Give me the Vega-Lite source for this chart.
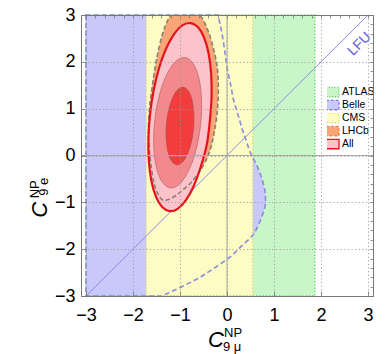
{
  "$schema": "https://vega.github.io/schema/vega-lite/v6.json",
  "width": 292,
  "height": 281,
  "autosize": "none",
  "padding": {"left": 81, "top": 15, "right": 12, "bottom": 58},
  "background": "white",
  "config": {"view": {"stroke": null}, "font": "Liberation Sans"},
  "datasets": {
    "atlas": [{"name": "ATLAS", "x0": -3, "x1": 1.87, "y0": -3, "y1": 3}],
    "cms": [{"name": "CMS", "x0": -1.72, "x1": 0.55, "y0": -3, "y1": 3}],
    "belle": [
      {"name": "Belle", "y": -3.0, "xl": -3, "xr": -1.39},
      {"name": "Belle", "y": -2.82, "xl": -3, "xr": -1.0},
      {"name": "Belle", "y": -2.66, "xl": -3, "xr": -0.68},
      {"name": "Belle", "y": -2.51, "xl": -3, "xr": -0.43},
      {"name": "Belle", "y": -2.35, "xl": -3, "xr": -0.19},
      {"name": "Belle", "y": -2.17, "xl": -3, "xr": 0.06},
      {"name": "Belle", "y": -1.94, "xl": -3, "xr": 0.30},
      {"name": "Belle", "y": -1.7, "xl": -3, "xr": 0.55},
      {"name": "Belle", "y": -1.5, "xl": -3, "xr": 0.66},
      {"name": "Belle", "y": -1.31, "xl": -3, "xr": 0.74},
      {"name": "Belle", "y": -1.13, "xl": -3, "xr": 0.80},
      {"name": "Belle", "y": -0.95, "xl": -3, "xr": 0.82},
      {"name": "Belle", "y": -0.78, "xl": -3, "xr": 0.81},
      {"name": "Belle", "y": -0.59, "xl": -3, "xr": 0.77},
      {"name": "Belle", "y": -0.4, "xl": -3, "xr": 0.71},
      {"name": "Belle", "y": -0.2, "xl": -3, "xr": 0.63},
      {"name": "Belle", "y": 0.08, "xl": -3, "xr": 0.49},
      {"name": "Belle", "y": 0.25, "xl": -3, "xr": 0.43},
      {"name": "Belle", "y": 0.48, "xl": -3, "xr": 0.35},
      {"name": "Belle", "y": 0.85, "xl": -3, "xr": 0.24},
      {"name": "Belle", "y": 1.19, "xl": -3, "xr": 0.14},
      {"name": "Belle", "y": 1.55, "xl": -3, "xr": 0.07},
      {"name": "Belle", "y": 1.89, "xl": -3, "xr": 0.0},
      {"name": "Belle", "y": 2.25, "xl": -3, "xr": -0.05},
      {"name": "Belle", "y": 2.62, "xl": -3, "xr": -0.11},
      {"name": "Belle", "y": 3.0, "xl": -3, "xr": -0.19}
    ],
    "lhcb": [
      {"i": 0, "x": -0.90, "y": 3.20}, {"i": 1, "x": -0.66, "y": 3.10}, {"i": 2, "x": -0.50, "y": 2.88},
      {"i": 3, "x": -0.38, "y": 2.60}, {"i": 4, "x": -0.28, "y": 2.25}, {"i": 5, "x": -0.21, "y": 1.90},
      {"i": 6, "x": -0.185, "y": 1.55}, {"i": 7, "x": -0.19, "y": 1.18}, {"i": 8, "x": -0.22, "y": 0.82},
      {"i": 9, "x": -0.27, "y": 0.50}, {"i": 10, "x": -0.33, "y": 0.22}, {"i": 11, "x": -0.41, "y": -0.02},
      {"i": 12, "x": -0.58, "y": -0.34}, {"i": 13, "x": -0.76, "y": -0.57}, {"i": 14, "x": -0.92, "y": -0.72},
      {"i": 15, "x": -1.08, "y": -0.85}, {"i": 16, "x": -1.24, "y": -0.94}, {"i": 17, "x": -1.37, "y": -0.95},
      {"i": 18, "x": -1.47, "y": -0.82}, {"i": 19, "x": -1.55, "y": -0.60}, {"i": 20, "x": -1.60, "y": -0.33},
      {"i": 21, "x": -1.64, "y": 0.00}, {"i": 22, "x": -1.67, "y": 0.48}, {"i": 23, "x": -1.65, "y": 1.00},
      {"i": 24, "x": -1.58, "y": 1.55}, {"i": 25, "x": -1.49, "y": 2.10}, {"i": 26, "x": -1.37, "y": 2.60},
      {"i": 27, "x": -1.24, "y": 2.93}, {"i": 28, "x": -1.10, "y": 3.12}
    ],
    "all3": [
      {"i": 0, "x": -0.364, "y": 0.750}, {"i": 1, "x": -0.328, "y": 1.272}, {"i": 2, "x": -0.338, "y": 1.763},
      {"i": 3, "x": -0.393, "y": 2.190}, {"i": 4, "x": -0.490, "y": 2.524}, {"i": 5, "x": -0.621, "y": 2.742},
      {"i": 6, "x": -0.778, "y": 2.828}, {"i": 7, "x": -0.951, "y": 2.778}, {"i": 8, "x": -1.126, "y": 2.594},
      {"i": 9, "x": -1.293, "y": 2.289}, {"i": 10, "x": -1.440, "y": 1.885}, {"i": 11, "x": -1.557, "y": 1.408},
      {"i": 12, "x": -1.636, "y": 0.890}, {"i": 13, "x": -1.672, "y": 0.368}, {"i": 14, "x": -1.662, "y": -0.123},
      {"i": 15, "x": -1.607, "y": -0.550}, {"i": 16, "x": -1.510, "y": -0.884}, {"i": 17, "x": -1.379, "y": -1.102},
      {"i": 18, "x": -1.222, "y": -1.188}, {"i": 19, "x": -1.049, "y": -1.138}, {"i": 20, "x": -0.874, "y": -0.954},
      {"i": 21, "x": -0.707, "y": -0.650}, {"i": 22, "x": -0.560, "y": -0.245}, {"i": 23, "x": -0.430, "y": 0.232}
    ],
    "all2": [
      {"i": 0, "x": -0.563, "y": 0.646}, {"i": 1, "x": -0.540, "y": 1.009}, {"i": 2, "x": -0.551, "y": 1.349},
      {"i": 3, "x": -0.597, "y": 1.646}, {"i": 4, "x": -0.673, "y": 1.878}, {"i": 5, "x": -0.775, "y": 2.031},
      {"i": 6, "x": -0.896, "y": 2.092}, {"i": 7, "x": -1.027, "y": 2.059}, {"i": 8, "x": -1.160, "y": 1.932},
      {"i": 9, "x": -1.285, "y": 1.722}, {"i": 10, "x": -1.395, "y": 1.443}, {"i": 11, "x": -1.480, "y": 1.113},
      {"i": 12, "x": -1.537, "y": 0.754}, {"i": 13, "x": -1.560, "y": 0.391}, {"i": 14, "x": -1.549, "y": 0.051},
      {"i": 15, "x": -1.503, "y": -0.246}, {"i": 16, "x": -1.427, "y": -0.478}, {"i": 17, "x": -1.325, "y": -0.631},
      {"i": 18, "x": -1.204, "y": -0.692}, {"i": 19, "x": -1.073, "y": -0.659}, {"i": 20, "x": -0.940, "y": -0.532},
      {"i": 21, "x": -0.815, "y": -0.322}, {"i": 22, "x": -0.705, "y": -0.043}, {"i": 23, "x": -0.620, "y": 0.287}
    ],
    "all1": [
      {"i": 0, "x": -0.711, "y": 0.607}, {"i": 1, "x": -0.704, "y": 0.822}, {"i": 2, "x": -0.717, "y": 1.024},
      {"i": 3, "x": -0.749, "y": 1.199}, {"i": 4, "x": -0.798, "y": 1.335}, {"i": 5, "x": -0.861, "y": 1.423},
      {"i": 6, "x": -0.934, "y": 1.457}, {"i": 7, "x": -1.011, "y": 1.435}, {"i": 8, "x": -1.088, "y": 1.358},
      {"i": 9, "x": -1.157, "y": 1.231}, {"i": 10, "x": -1.217, "y": 1.064}, {"i": 11, "x": -1.262, "y": 0.866},
      {"i": 12, "x": -1.289, "y": 0.653}, {"i": 13, "x": -1.296, "y": 0.438}, {"i": 14, "x": -1.283, "y": 0.237},
      {"i": 15, "x": -1.251, "y": 0.061}, {"i": 16, "x": -1.202, "y": -0.075}, {"i": 17, "x": -1.139, "y": -0.163},
      {"i": 18, "x": -1.066, "y": -0.197}, {"i": 19, "x": -0.989, "y": -0.175}, {"i": 20, "x": -0.913, "y": -0.098},
      {"i": 21, "x": -0.843, "y": 0.029}, {"i": 22, "x": -0.783, "y": 0.197}, {"i": 23, "x": -0.738, "y": 0.394}
    ]
  },
  "layer": [
    {
      "data": {"name": "atlas"},
      "mark": {"type": "rect", "strokeWidth": 0},
      "encoding": {
        "x": {"field": "x0", "type": "quantitative",
          "scale": {"domain": [-3.106, 3.106], "nice": false, "zero": false},
          "axis": {"orient": "bottom", "title": null,
            "values": [-3, -2, -1, 0, 1, 2, 3], "format": "d",
            "labelFont": "Liberation Sans", "labelFontSize": 18, "labelColor": "#000", "labelPadding": 15,
            "labelFlush": false, "labelOverlap": false,
            "tickSize": -5, "tickColor": "#777", "tickWidth": 0.8, "domainColor": "#777", "domainWidth": 1,
            "grid": true, "gridColor": "#9a9a9a", "gridDash": [1.2, 2.4], "gridWidth": 1, "gridOpacity": 0.9,
            "zindex": 1}},
        "x2": {"field": "x1"},
        "y": {"field": "y0", "type": "quantitative",
          "scale": {"domain": [-3, 3], "nice": false, "zero": false},
          "axis": {"orient": "left", "title": null,
            "values": [-3, -2, -1, 0, 1, 2, 3], "format": "d",
            "labelFont": "Liberation Sans", "labelFontSize": 18, "labelColor": "#000", "labelPadding": 11,
            "labelFlush": false, "labelOverlap": false,
            "tickSize": -5, "tickColor": "#777", "tickWidth": 0.8, "domainColor": "#777", "domainWidth": 1,
            "grid": true, "gridColor": "#9a9a9a", "gridDash": [1.2, 2.4], "gridWidth": 1, "gridOpacity": 0.9,
            "zindex": 1}},
        "y2": {"field": "y1"},
        "fill": {"field": "name", "type": "nominal",
          "scale": {"domain": ["ATLAS", "Belle", "CMS", "LHCb", "All"],
                    "range": ["#c8f6c8", "#c9c9f9", "#fcfcc4", "#f8a678", "#fcc4ca"]},
          "legend": {"orient": "none", "legendX": 246, "legendY": 71, "title": null,
            "symbolType": "M-1.4,-1L1.4,-1L1.4,1L-1.4,1Z", "symbolSize": 86,
            "symbolStrokeWidth": 1.3, "labelFont": "Liberation Sans", "labelFontSize": 10.5,
            "labelColor": "#000", "labelOffset": 4, "rowPadding": 0, "clipHeight": 12.2, "padding": 0,
            "encoding": {"symbols": {
              "fill": {"value": {"expr": "scale('fill', datum.value)"}},
              "stroke": {"value": {"expr": "datum.value === 'ATLAS' ? '#63cf63' : datum.value === 'Belle' ? '#7f7fe0' : datum.value === 'CMS' ? '#d9d974' : datum.value === 'LHCb' ? '#e0875a' : '#e3161e'"}},
              "strokeDash": {"value": {"expr": "datum.value === 'Belle' || datum.value === 'LHCb' ? [3, 1.8] : datum.value === 'All' ? [1, 0] : [1.2, 1.6]"}},
              "opacity": {"value": 1}
            }}}}
      }
    },
    {
      "data": {"name": "belle"},
      "mark": {"type": "area", "orient": "horizontal", "interpolate": "monotone", "strokeWidth": 0},
      "encoding": {
        "y": {"field": "y", "type": "quantitative", "axis": null},
        "x": {"field": "xl", "type": "quantitative", "axis": null},
        "x2": {"field": "xr"},
        "fill": {"field": "name", "type": "nominal", "legend": null}
      }
    },
    {
      "data": {"name": "cms"},
      "mark": {"type": "rect", "strokeWidth": 0},
      "encoding": {
        "x": {"field": "x0", "type": "quantitative",
          "axis": {"orient": "top", "title": null, "labels": false, "grid": false,
            "values": [-3,-2.8,-2.6,-2.4,-2.2,-2,-1.8,-1.6,-1.4,-1.2,-1,-0.8,-0.6,-0.4,-0.2,0,0.2,0.4,0.6,0.8,1,1.2,1.4,1.6,1.8,2,2.2,2.4,2.6,2.8,3],
            "tickSize": -3, "tickColor": "#777", "tickWidth": 0.8, "domainColor": "#777", "domainWidth": 1,
            "zindex": 1}},
        "x2": {"field": "x1"},
        "y": {"field": "y0", "type": "quantitative",
          "axis": {"orient": "right", "title": null, "labels": false, "grid": false,
            "values": [-3,-2.8,-2.6,-2.4,-2.2,-2,-1.8,-1.6,-1.4,-1.2,-1,-0.8,-0.6,-0.4,-0.2,0,0.2,0.4,0.6,0.8,1,1.2,1.4,1.6,1.8,2,2.2,2.4,2.6,2.8,3],
            "tickSize": -3, "tickColor": "#777", "tickWidth": 0.8, "domainColor": "#777", "domainWidth": 1,
            "zindex": 1}},
        "y2": {"field": "y1"},
        "fill": {"field": "name", "type": "nominal", "legend": null}
      }
    },
    {
      "data": {"name": "atlas"},
      "mark": {"type": "rect", "fill": "transparent", "stroke": "#63cf63", "strokeWidth": 1.3, "strokeDash": [1.3, 2]},
      "encoding": {
        "x": {"field": "x0", "type": "quantitative", "axis": null},
        "x2": {"field": "x1"},
        "y": {"field": "y0", "type": "quantitative", "axis": null},
        "y2": {"field": "y1"}
      }
    },
    {
      "data": {"name": "cms"},
      "mark": {"type": "rect", "fill": "transparent", "stroke": "#d6d66e", "strokeWidth": 1.3, "strokeDash": [1.3, 2]},
      "encoding": {
        "x": {"field": "x0", "type": "quantitative", "axis": null},
        "x2": {"field": "x1"},
        "y": {"field": "y0", "type": "quantitative", "axis": null},
        "y2": {"field": "y1"}
      }
    },
    {
      "data": {"name": "belle"},
      "mark": {"type": "area", "orient": "horizontal", "interpolate": "monotone", "fill": "transparent", "stroke": "#8a8ae0", "strokeWidth": 1.6, "strokeDash": [5, 3]},
      "encoding": {
        "y": {"field": "y", "type": "quantitative", "axis": null},
        "x": {"field": "xl", "type": "quantitative", "axis": null},
        "x2": {"field": "xr"}
      }
    },
    {
      "data": {"values": [{"xa": -3, "ya": -3, "xb": 3, "yb": 3}]},
      "mark": {"type": "rule", "color": "#8d8de6", "strokeWidth": 1},
      "encoding": {
        "x": {"field": "xa", "type": "quantitative", "axis": null},
        "y": {"field": "ya", "type": "quantitative", "axis": null},
        "x2": {"field": "xb"},
        "y2": {"field": "yb"}
      }
    },
    {
      "data": {"values": [{"t": "LFU"}]},
      "mark": {"type": "text", "angle": 315, "fontSize": 14, "font": "Liberation Sans", "color": "#6262da", "align": "center", "baseline": "middle"},
      "encoding": {
        "text": {"field": "t"},
        "x": {"datum": 2.82, "type": "quantitative", "axis": null},
        "y": {"datum": 2.38, "type": "quantitative", "axis": null}
      }
    },
    {
      "data": {"name": "lhcb"},
      "mark": {"type": "line", "interpolate": "cardinal-closed", "fill": "#f8a678", "stroke": "transparent", "clip": true},
      "encoding": {
        "x": {"field": "x", "type": "quantitative", "axis": null},
        "y": {"field": "y", "type": "quantitative", "axis": null},
        "order": {"field": "i"}
      }
    },
    {
      "data": {"name": "all3"},
      "mark": {"type": "line", "interpolate": "cardinal-closed", "fill": "#fcc4ca", "stroke": "transparent", "clip": true},
      "encoding": {
        "x": {"field": "x", "type": "quantitative", "axis": null},
        "y": {"field": "y", "type": "quantitative", "axis": null},
        "order": {"field": "i"}
      }
    },
    {
      "data": {"name": "all2"},
      "mark": {"type": "line", "interpolate": "cardinal-closed", "fill": "#f4898d", "stroke": "#ba6d6f", "strokeWidth": 0.8, "clip": true},
      "encoding": {
        "x": {"field": "x", "type": "quantitative", "axis": null},
        "y": {"field": "y", "type": "quantitative", "axis": null},
        "order": {"field": "i"}
      }
    },
    {
      "data": {"name": "all1"},
      "mark": {"type": "line", "interpolate": "cardinal-closed", "fill": "#f33c3c", "stroke": "#b8494a", "strokeWidth": 0.8, "clip": true},
      "encoding": {
        "x": {"field": "x", "type": "quantitative", "axis": null},
        "y": {"field": "y", "type": "quantitative", "axis": null},
        "order": {"field": "i"}
      }
    },
    {
      "data": {"name": "lhcb"},
      "mark": {"type": "line", "interpolate": "cardinal-closed", "stroke": "#8f7f70", "strokeWidth": 1.6, "strokeDash": [4.5, 2.5], "clip": true},
      "encoding": {
        "x": {"field": "x", "type": "quantitative", "axis": null},
        "y": {"field": "y", "type": "quantitative", "axis": null},
        "order": {"field": "i"}
      }
    },
    {
      "data": {"name": "all3"},
      "mark": {"type": "line", "interpolate": "cardinal-closed", "stroke": "#e5141c", "strokeWidth": 2.2, "clip": true},
      "encoding": {
        "x": {"field": "x", "type": "quantitative", "axis": null},
        "y": {"field": "y", "type": "quantitative", "axis": null},
        "order": {"field": "i"}
      }
    },
    {
      "data": {"values": [{"v": 0}]},
      "mark": {"type": "rule", "color": "#a8a8a8", "strokeWidth": 1},
      "encoding": {"x": {"field": "v", "type": "quantitative", "axis": null}}
    },
    {
      "data": {"values": [{"v": 0}]},
      "mark": {"type": "rule", "color": "#a8a8a8", "strokeWidth": 1},
      "encoding": {"y": {"field": "v", "type": "quantitative", "axis": null}}
    },
    {
      "data": {"values": [{"t": "C"}]},
      "mark": {"type": "text", "font": "Liberation Sans", "fontSize": 22, "fontStyle": "italic", "align": "left", "baseline": "alphabetic", "dx": -19, "dy": 51, "color": "#000"},
      "encoding": {"text": {"field": "t"}, "x": {"datum": 0, "type": "quantitative", "axis": null}, "y": {"datum": -3, "type": "quantitative", "axis": null}}
    },
    {
      "data": {"values": [{"t": "NP"}]},
      "mark": {"type": "text", "font": "Liberation Sans", "fontSize": 13, "align": "left", "baseline": "alphabetic", "dx": -3, "dy": 41, "color": "#000"},
      "encoding": {"text": {"field": "t"}, "x": {"datum": 0, "type": "quantitative", "axis": null}, "y": {"datum": -3, "type": "quantitative", "axis": null}}
    },
    {
      "data": {"values": [{"t": "9 μ"}]},
      "mark": {"type": "text", "font": "Liberation Sans", "fontSize": 13, "align": "left", "baseline": "alphabetic", "dx": -4, "dy": 55, "color": "#000"},
      "encoding": {"text": {"field": "t"}, "x": {"datum": 0, "type": "quantitative", "axis": null}, "y": {"datum": -3, "type": "quantitative", "axis": null}}
    },
    {
      "data": {"values": [{"t": "C"}]},
      "mark": {"type": "text", "font": "Liberation Sans", "fontSize": 22, "fontStyle": "italic", "align": "left", "baseline": "alphabetic", "angle": 270, "dy": -34, "color": "#000"},
      "encoding": {"text": {"field": "t"}, "x": {"datum": -3.106, "type": "quantitative", "axis": null}, "y": {"datum": -1.33, "type": "quantitative", "axis": null}}
    },
    {
      "data": {"values": [{"t": "NP"}]},
      "mark": {"type": "text", "font": "Liberation Sans", "fontSize": 13, "align": "left", "baseline": "alphabetic", "angle": 270, "dy": -42, "color": "#000"},
      "encoding": {"text": {"field": "t"}, "x": {"datum": -3.106, "type": "quantitative", "axis": null}, "y": {"datum": -0.915, "type": "quantitative", "axis": null}}
    },
    {
      "data": {"values": [{"t": "9 e"}]},
      "mark": {"type": "text", "font": "Liberation Sans", "fontSize": 13, "align": "left", "baseline": "alphabetic", "angle": 270, "dy": -33, "color": "#000"},
      "encoding": {"text": {"field": "t"}, "x": {"datum": -3.106, "type": "quantitative", "axis": null}, "y": {"datum": -0.86, "type": "quantitative", "axis": null}}
    }
  ]
}
